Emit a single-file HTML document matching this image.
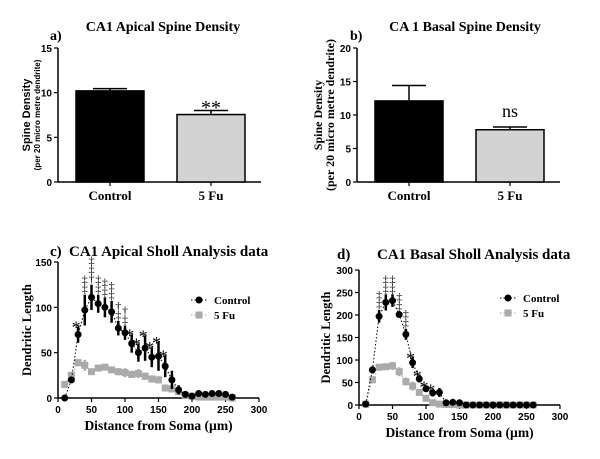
<!DOCTYPE html>
<html><head><meta charset="utf-8">
<style>
html,body{margin:0;padding:0;background:#fff;}
svg{display:block;}
text{font-family:"Liberation Serif",serif;font-weight:bold;fill:#000;}
.sans{font-family:"Liberation Sans",sans-serif;}
</style></head>
<body>
<svg id="fig" width="600" height="459" viewBox="0 0 600 459" xmlns="http://www.w3.org/2000/svg"></svg>
<script>
// ---- data ----
const barCats = ["Control","5 Fu"];
const apicalDensity = [10.2, 7.55];
const apicalErr = [0.25, 0.45];
const basalDensity = [12.1, 7.8];
const basalErr = [2.3, 0.4];
const shollX = [10,20,30,40,50,60,70,80,90,100,110,120,130,140,150,160,170,180,190,200,210,220,230,240,250,260];
const apicalCtrl = [0,20,70,97,111,104,100,95,77,72,60,50,55,45,46,35,20,9,4,2,5,4,5,5,4,1];
const apicalCtrlErr = [1,3,9,17,14,10,11,12,8,8,10,10,14,11,16,12,10,5,3,2,3,3,3,3,3,1];
const apicalFu = [15,25,39,36,29,33,34,31,29,28,26,27,24,21,20,11,10,7,3,2,1,1,1,1,1,0];
const apicalFuErr = [2,3,4,6,3,3,2,3,4,5,4,5,4,4,4,3,3,2,1,1,1,1,1,1,1,0];
const apicalSig = ["","","*","‡‡","†‡‡","‡‡","‡‡","‡‡","‡†","‡†","*","*","*","*","*","*","","","","","","","","","",""];
const basalCtrl = [2,78,197,228,232,201,157,94,58,36,27,28,5,6,5,0,0,0,0,0,0,0,0,0,0,0];
const basalCtrlErr = [1,8,14,18,14,6,12,12,8,5,8,10,2,2,2,0,0,0,0,0,0,0,0,0,0,0];
const basalFu = [2,56,84,85,87,74,52,42,28,15,5,2,1,1,0,0,0,0,0,0,0,0,0,0,0,0];
const basalFuErr = [1,5,4,4,9,10,9,10,6,4,2,1,1,1,0,0,0,0,0,0,0,0,0,0,0,0];
const basalSig = ["","","‡‡","‡‡","‡‡","‡‡","‡‡","*","*","*","*","","","","","","","","","","","","","","",""];
const xTicks = [0,50,100,150,200,250,300];
const apicalYTicks = [0,50,100,150];
const basalYTicks = [0,50,100,150,200,250,300];

const NS="http://www.w3.org/2000/svg";
const svg=document.getElementById('fig');
function el(tag,attrs,parent,txt){const e=document.createElementNS(NS,tag);for(const k in attrs)e.setAttribute(k,attrs[k]);if(txt!==undefined)e.textContent=txt;(parent||svg).appendChild(e);return e;}

function barPanel(o){
  const g=el('g',{});
  
  
  const y=v=>o.y0-(v/o.ymax)*(o.y0-o.y1);
  const ax=el('line',{x1:o.ax,y1:o.y1,x2:o.ax,y2:o.y0,stroke:'#000','stroke-width':1.5},g);
  
  const xa=el('line',{x1:o.ax,y1:o.y0,x2:o.ax+203,y2:o.y0,stroke:'#000','stroke-width':1.5},g);
  
  o.ticks.forEach(t=>{
    el('line',{x1:o.ax-4,y1:y(t),x2:o.ax,y2:y(t),stroke:'#000','stroke-width':1.2},g);
    const tl=el('text',{x:o.ax-6,y:y(t)+4,'text-anchor':'end','font-size':10,class:'sans'},g,String(t));
    
  });
  const bx=[[o.ax+18,o.ax+86],[o.ax+119,o.ax+187]];
  const fills=['#000','#d3d3d3'];
  o.vals.forEach((v,i)=>{
    const cx=(bx[i][0]+bx[i][1])/2;
    el('line',{x1:cx,y1:y(v),x2:cx,y2:y(v+o.err[i]),stroke:'#000','stroke-width':1.5},g);
    el('line',{x1:cx-17,y1:y(v+o.err[i]),x2:cx+17,y2:y(v+o.err[i]),stroke:'#000','stroke-width':1.5},g);
    const r=el('rect',{x:bx[i][0],y:y(v),width:bx[i][1]-bx[i][0],height:o.y0-y(v),fill:fills[i],stroke:'#000','stroke-width':1.5},g);
    
    
    el('line',{x1:cx,y1:o.y0,x2:cx,y2:o.y0+4,stroke:'#000','stroke-width':1.2},g);
    const cl=el('text',{x:cx,y:o.y0+18,'text-anchor':'middle','font-size':13},g,barCats[i]);
    
  });
  const s=el('text',{x:(bx[1][0]+bx[1][1])/2,y:o.sigY,'text-anchor':'middle','font-size':o.sigSize,style:'font-weight:normal'},g,o.sig);
  
  const t=el('text',{x:o.tx,y:31,'text-anchor':'middle','font-size':14},g,o.title);
  
  const p=el('text',{x:o.px,y:40,'font-size':14},g,o.panel);
  
  const yc=(o.y0+o.y1)/2;
  const l1=el('text',{x:o.l1x,y:yc,'text-anchor':'middle','font-size':o.sans?11:12,transform:`rotate(-90 ${o.l1x} ${yc})`,class:o.sans?'sans':''},g,'Spine Density');
  
  const l2=el('text',{x:o.l2x,y:yc,'text-anchor':'middle','font-size':o.sans?8:12,transform:`rotate(-90 ${o.l2x} ${yc})`,class:o.sans?'sans':''},g,'(per 20 micro metre dendrite)');
  
}

barPanel({name:'panel-a-apical-spine-density',ax:58,y0:182,y1:48,ymax:15,ticks:[0,5,10,15],vals:apicalDensity,err:apicalErr,sig:'**',sigY:114,sigSize:20,title:'CA1 Apical Spine Density',tx:163,panel:'a)',px:50,l1x:30,l2x:40,sans:true});
barPanel({name:'panel-b-basal-spine-density',ax:357,y0:182,y1:48,ymax:20,ticks:[0,5,10,15,20],vals:basalDensity,err:basalErr,sig:'ns',sigY:117,sigSize:18,title:'CA 1 Basal Spine Density',tx:465,panel:'b)',px:350,l1x:322,l2x:334,sans:false});

function shollPanel(o){
  const g=el('g',{});
  
  
  const x=v=>o.ax+(v/300)*(o.xr-o.ax);
  const y=v=>o.y0-(v/o.ymax)*(o.y0-o.y1);
  const ya=el('line',{x1:o.ax,y1:o.y1,x2:o.ax,y2:o.y0,stroke:'#000','stroke-width':1.5},g);
  
  const xa=el('line',{x1:o.ax,y1:o.y0,x2:o.xr,y2:o.y0,stroke:'#000','stroke-width':1.5},g);
  
  o.yt.forEach(t=>{
    el('line',{x1:o.ax-4,y1:y(t),x2:o.ax,y2:y(t),stroke:'#000','stroke-width':1.2},g);
    const tl=el('text',{x:o.ax-6,y:y(t)+4,'text-anchor':'end','font-size':10,class:'sans'},g,String(t));
    
  });
  xTicks.forEach(t=>{
    el('line',{x1:x(t),y1:o.y0,x2:x(t),y2:o.y0+4,stroke:'#000','stroke-width':1.2},g);
    const tl=el('text',{x:x(t),y:o.y0+15,'text-anchor':'middle','font-size':10,class:'sans'},g,String(t));
    
  });
  el('polyline',{points:shollX.map((d,i)=>x(d)+','+y(o.fu[i])).join(' '),fill:'none',stroke:'#aaa','stroke-width':1,'stroke-dasharray':'1.5 2'},g);
  shollX.forEach((d,i)=>{
    el('line',{x1:x(d),y1:y(o.fu[i]-o.fuE[i]),x2:x(d),y2:y(o.fu[i]+o.fuE[i]),stroke:'#aaa','stroke-width':2.5},g);
    const m=el('rect',{x:x(d)-3.5,y:y(o.fu[i])-3.5,width:7,height:7,fill:'#aaa'},g);
    
  });
  el('polyline',{points:shollX.map((d,i)=>x(d)+','+y(o.c[i])).join(' '),fill:'none',stroke:'#000','stroke-width':1,'stroke-dasharray':'1.5 2'},g);
  shollX.forEach((d,i)=>{
    el('line',{x1:x(d),y1:y(o.c[i]-o.cE[i]),x2:x(d),y2:y(o.c[i]+o.cE[i]),stroke:'#000','stroke-width':2.5},g);
    const m=el('circle',{cx:x(d),cy:y(o.c[i]),r:3.5,fill:'#000'},g);
    
    const s=o.sig[i];
    if(s){
      const chars=s.split('');
      chars.forEach((ch,k)=>{
        const isStar=ch==='*';
        const st=el('text',{x:x(d)+(isStar?-2:0),y:y(o.c[i]+o.cE[i])+(isStar?7:-2)-k*9,'text-anchor':'middle','font-size':isStar?18:12,style:'font-weight:normal'},g,ch);
        
      });
    }
  });
  const lg=el('g',{},g);
  
  el('line',{x1:o.lx-8,y1:o.ly,x2:o.lx+8,y2:o.ly,stroke:'#000','stroke-width':1,'stroke-dasharray':'1.5 2'},lg);
  el('circle',{cx:o.lx,cy:o.ly,r:3.5,fill:'#000'},lg);
  const t1=el('text',{x:o.lx+15,y:o.ly+4,'font-size':11},lg,'Control');
  
  el('line',{x1:o.lx-8,y1:o.ly+15,x2:o.lx+8,y2:o.ly+15,stroke:'#aaa','stroke-width':1,'stroke-dasharray':'1.5 2'},lg);
  el('rect',{x:o.lx-3.5,y:o.ly+11.5,width:7,height:7,fill:'#aaa'},lg);
  const t2=el('text',{x:o.lx+15,y:o.ly+19,'font-size':11},lg,'5 Fu');
  
  const xt=el('text',{x:(o.ax+o.xr)/2,y:o.y0+32,'text-anchor':'middle','font-size':13.5},g,'Distance from Soma (\u00b5m)');
  
  const yc=(o.y0+o.y1)/2;
  const yt=el('text',{x:o.ylx,y:yc,'text-anchor':'middle','font-size':12.5,transform:`rotate(-90 ${o.ylx} ${yc})`},g,'Dendritic Length');
  
  const pl=el('text',{x:o.px,y:o.ty,'font-size':15},g,o.panel);
  
  const tt=el('text',{x:o.tx,y:o.ty,'font-size':15},g,o.title);
  
}

shollPanel({name:'panel-c-apical-sholl',ax:58,xr:259,y0:398,y1:262,ymax:150,yt:apicalYTicks,c:apicalCtrl,cE:apicalCtrlErr,fu:apicalFu,fuE:apicalFuErr,sig:apicalSig,lx:199,ly:300,ylx:31,px:50,tx:69,ty:256,panel:'c)',title:'CA1 Apical Sholl Analysis data'});
shollPanel({name:'panel-d-basal-sholl',ax:359,xr:560,y0:405,y1:270,ymax:300,yt:basalYTicks,c:basalCtrl,cE:basalCtrlErr,fu:basalFu,fuE:basalFuErr,sig:basalSig,lx:508,ly:298,ylx:330,px:337,tx:377,ty:259,panel:'d)',title:'CA1 Basal Sholl Analysis data'});
</script>
</body></html>
